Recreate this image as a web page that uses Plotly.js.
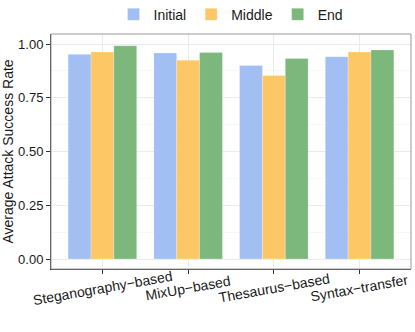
<!DOCTYPE html>
<html>
<head>
<meta charset="utf-8">
<script src="https://cdn.plot.ly/plotly-3.0.1.min.js"></script>
<style>
  body { margin: 0; padding: 0; background: #fff; }
  #chart { width: 415px; height: 332px; }
</style>
</head>
<body>
<div id="chart"></div>
<script>
// attack success rate per method, at three stages
var methods = ["Steganography\u2212based", "MixUp\u2212based", "Thesaurus\u2212based", "Syntax\u2212transfer"];
var initialRate = [0.952, 0.958, 0.900, 0.941];
var middleRate = [0.963, 0.924, 0.853, 0.963];
var endRate = [0.992, 0.960, 0.933, 0.972];
var yTicks = [0, 0.25, 0.5, 0.75, 1.0];

var font = "Liberation Sans, Arial, sans-serif";

function bars(name, vals, color) {
    return {
        type: "bar",
        name: name,
        x: methods,
        y: vals,
        marker: { color: color, line: { color: "rgba(255,255,255,0.4)", width: 0.6 } },
        hoverinfo: "none"
    };
}

var data = [
    bars("Initial", initialRate, "rgb(161,191,243)"),
    bars("Middle", middleRate, "rgb(253,199,102)"),
    bars("End", endRate, "rgb(124,184,124)")
];

// x labels drawn as rotated, centred annotations (ggplot style)
var labels = methods.map(function (m) {
    return {
        x: m, xref: "x", y: 0, yref: "paper",
        yanchor: "middle", xanchor: "center", yshift: -19,
        text: m, textangle: -10, showarrow: false,
        font: { family: font, size: 14, color: "#1a1a1a" }
    };
});

var layout = {
    width: 415, height: 332,
    margin: { l: 51, r: 4, t: 34, b: 63, autoexpand: false },
    paper_bgcolor: "#fff", plot_bgcolor: "#fff",
    barmode: "group", bargap: 0.2, bargroupgap: 0,
    font: { family: font, size: 14, color: "#1a1a1a" },
    showlegend: true,
    legend: {
        orientation: "h", x: 0.5, xanchor: "center", y: 1.082, yanchor: "middle",
        font: { family: font, size: 14, color: "#1a1a1a" },
        itemwidth: 30, traceorder: "normal"
    },
    xaxis: {
        type: "category", range: [-0.6, 3.6],
        showticklabels: false,
        ticks: "outside", ticklen: 4, tickcolor: "#333",
        showgrid: true, gridcolor: "#ebebeb", gridwidth: 1,
        showline: true, linecolor: "#333", linewidth: 1,
        zeroline: false, fixedrange: true
    },
    yaxis: {
        range: [-0.0465, 1.0465],
        tickvals: yTicks, tickformat: ".2f",
        ticks: "outside", ticklen: 4, tickcolor: "#333",
        tickfont: { family: font, size: 13, color: "#1a1a1a" },
        showgrid: true, gridcolor: "#ebebeb", gridwidth: 1,
        minor: { dtick: 0.125, tick0: 0, showgrid: true, gridcolor: "#f5f5f5", gridwidth: 0.8, ticks: "" },
        showline: true, linecolor: "#333", linewidth: 1,
        zeroline: false, fixedrange: true,
        title: { text: "Average Attack Success Rate", font: { family: font, size: 14, color: "#1a1a1a" }, standoff: 5 }
    },
    shapes: [{
        type: "rect", xref: "paper", yref: "paper", x0: 0, x1: 1, y0: 0, y1: 1,
        line: { color: "#9a9a9a", width: 1 }, fillcolor: "rgba(0,0,0,0)", layer: "above"
    }],
    annotations: labels
};

Plotly.newPlot("chart", data, layout, { displayModeBar: false, staticPlot: true });
</script>
</body>
</html>
